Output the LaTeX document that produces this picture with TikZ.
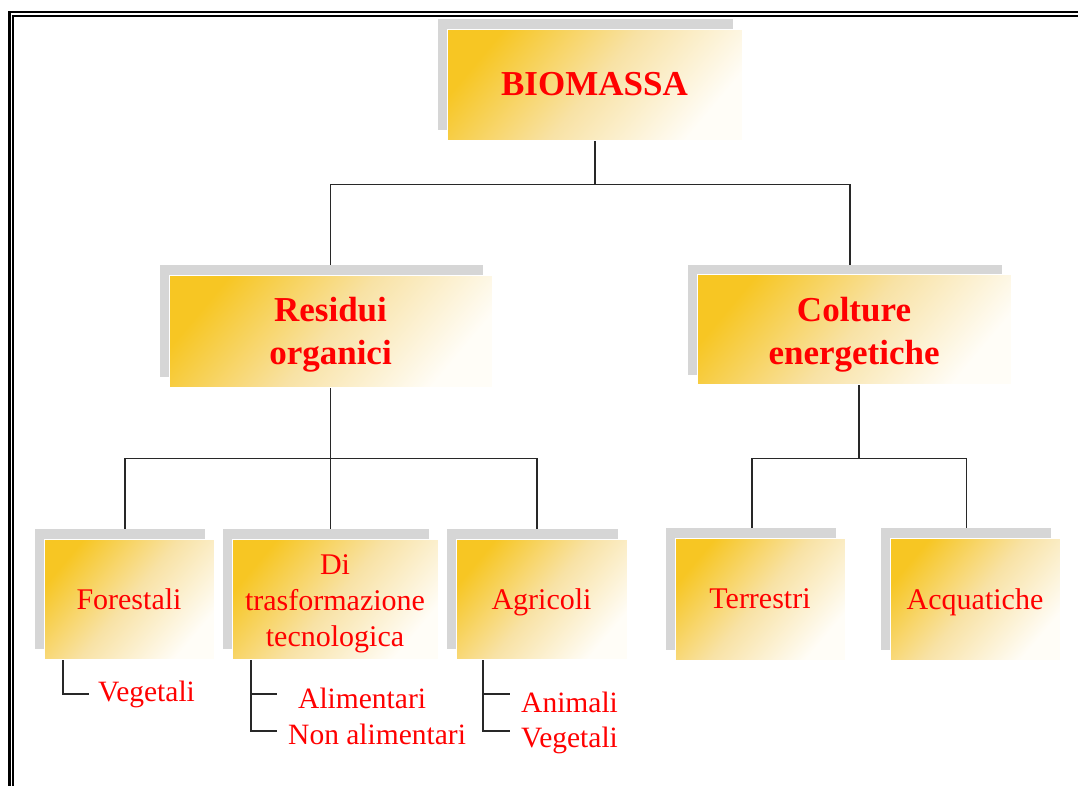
\documentclass[tikz,border=0pt]{standalone}
\usepackage{fontspec}
\setmainfont{Liberation Serif}
\usetikzlibrary{shadows,backgrounds,calc}
\definecolor{boxgold}{RGB}{247,198,35}
\definecolor{boxmid}{RGB}{248,226,165}
\definecolor{boxlight}{RGB}{255,253,247}
\definecolor{shadowgray}{RGB}{214,214,214}
\definecolor{txtred}{RGB}{255,0,0}
\definecolor{linegray}{RGB}{40,40,40}
\begin{document}
\begin{tikzpicture}[x=1pt,y=-1pt,
 fbox/.style={draw=white, line width=1pt, top color=boxgold, bottom color=boxlight, middle color=boxmid, shading angle=50,
   drop shadow={shadow xshift=-9pt, shadow yshift=10pt, fill=shadowgray, opacity=1},
   text=txtred, align=center, inner sep=0pt},
 lvlone/.style={fbox, font=\fontsize{35}{43}\selectfont\bfseries},
 lvltwo/.style={fbox, font=\fontsize{30}{36}\selectfont},
 leaftext/.style={text=txtred, font=\fontsize{29.5}{36}\selectfont, inner sep=0pt, anchor=base west},
 connline/.style={draw=linegray, line width=1.2pt},
]
\useasboundingbox (0,0) rectangle (1078,785);
\clip (0,0) rectangle (1078,785);
% frame
\draw[line width=2.5pt] (9.5,12) rectangle (1100,800);
\draw[line width=2pt] (13,16) rectangle (1100,800);

% boxes
\node[lvlone, minimum width=295, minimum height=111] (bio) at (594.5,84.5) {BIOMASSA};
\node[lvlone, minimum width=323, minimum height=112, text height=74] (res) at (330.5,331) {Residui\\organici};
\node[lvlone, minimum width=314, minimum height=110, text height=77] (col) at (854,329.5) {Colture\\energetiche};
\node[lvltwo, minimum width=170, minimum height=120] (for) at (129,599) {Forestali};
\node[lvltwo, minimum width=206, minimum height=120, text height=102] (dit) at (335,599) {Di\\trasformazione\\tecnologica};
\node[lvltwo, minimum width=171, minimum height=120, text depth=0pt] (agr) at (541.5,599) {Agricoli};
\node[lvltwo, minimum width=170, minimum height=122] (ter) at (760,599) {Terrestri};
\node[lvltwo, minimum width=170, minimum height=122, text depth=0pt] (acq) at (975,599) {Acquatiche};

% leaves
\node[leaftext] (vegf) at (98,701) {Vegetali};
\node[leaftext] (alim) at (298,708) {Alimentari};
\node[leaftext] (nonal) at (288,744) {Non alimentari};
\node[leaftext] (anim) at (521,712) {Animali};
\node[leaftext] (vega) at (521,747) {Vegetali};

\coordinate (vegfL) at (89,694);
\coordinate (alimL) at (277,694);
\coordinate (nonalL) at (277,731);
\coordinate (animL) at (510,694);
\coordinate (vegaL) at (510,731);

\begin{scope}[on background layer]
\draw[connline] ([xshift=0.5]bio.south) -- ++(0,44) -| (res.north);
\draw[connline] ([xshift=0.5]bio.south) ++(0,44) -| ([xshift=-4]col.north);
\draw[connline] (res.south) -- ++(0,71) -| ([xshift=-4]for.north);
\draw[connline] (res.south) ++(0,71) -| ([xshift=-4.5]agr.north);
\draw[connline] (res.south) -- (res.south |- dit.north);
\draw[connline] ([xshift=5]col.south) -- ++(0,73.5) -| ([xshift=-8]ter.north);
\draw[connline] ([xshift=5]col.south) ++(0,73.5) -| ([xshift=-8.5]acq.north);
\draw[connline] ([xshift=-66]for.south) |- (vegfL);
\draw[connline] ([xshift=-84]dit.south) |- (nonalL);
\draw[connline] ([xshift=-84]dit.south |- alimL) -- (alimL);
\draw[connline] ([xshift=-58.5]agr.south) |- (vegaL);
\draw[connline] ([xshift=-58.5]agr.south |- animL) -- (animL);
\end{scope}
\end{tikzpicture}
\end{document}
